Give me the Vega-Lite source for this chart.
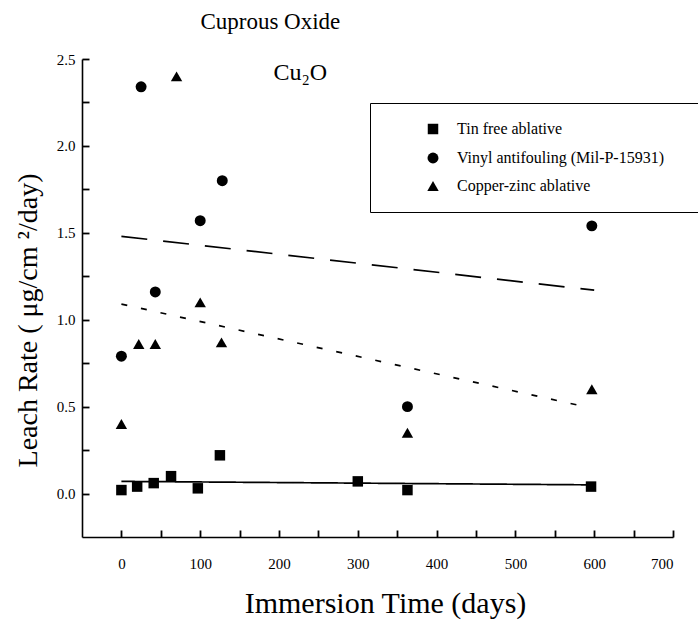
{
  "$schema": "https://vega.github.io/schema/vega-lite/v6.json",
  "width": 591,
  "height": 478,
  "autosize": {"type": "none"},
  "padding": {"left": 82, "top": 59, "right": 25, "bottom": 87},
  "background": "white",
  "config": {
    "view": {"stroke": null},
    "font": "Liberation Serif",
    "axis": {
      "grid": false,
      "domainColor": "black",
      "tickColor": "black",
      "labelColor": "black",
      "titleColor": "black",
      "labelFont": "Liberation Serif",
      "titleFont": "Liberation Serif",
      "titleFontWeight": "normal",
      "domainWidth": 1.6,
      "tickWidth": 1.8
    }
  },
  "datasets": {
    "pts": [
      {"d": 0, "v": 0.02, "s": "Tin free ablative"},
      {"d": 20, "v": 0.04, "s": "Tin free ablative"},
      {"d": 41, "v": 0.06, "s": "Tin free ablative"},
      {"d": 63, "v": 0.1, "s": "Tin free ablative"},
      {"d": 97, "v": 0.03, "s": "Tin free ablative"},
      {"d": 125, "v": 0.22, "s": "Tin free ablative"},
      {"d": 300, "v": 0.07, "s": "Tin free ablative"},
      {"d": 363, "v": 0.02, "s": "Tin free ablative"},
      {"d": 596, "v": 0.04, "s": "Tin free ablative"},
      {"d": 0, "v": 0.79, "s": "Vinyl antifouling (Mil-P-15931)"},
      {"d": 25, "v": 2.34, "s": "Vinyl antifouling (Mil-P-15931)"},
      {"d": 43, "v": 1.16, "s": "Vinyl antifouling (Mil-P-15931)"},
      {"d": 100, "v": 1.57, "s": "Vinyl antifouling (Mil-P-15931)"},
      {"d": 128, "v": 1.8, "s": "Vinyl antifouling (Mil-P-15931)"},
      {"d": 363, "v": 0.5, "s": "Vinyl antifouling (Mil-P-15931)"},
      {"d": 597, "v": 1.54, "s": "Vinyl antifouling (Mil-P-15931)"},
      {"d": 0, "v": 0.4, "s": "Copper-zinc ablative"},
      {"d": 22, "v": 0.86, "s": "Copper-zinc ablative"},
      {"d": 43, "v": 0.86, "s": "Copper-zinc ablative"},
      {"d": 70, "v": 2.4, "s": "Copper-zinc ablative"},
      {"d": 100, "v": 1.1, "s": "Copper-zinc ablative"},
      {"d": 127, "v": 0.87, "s": "Copper-zinc ablative"},
      {"d": 363, "v": 0.35, "s": "Copper-zinc ablative"},
      {"d": 597, "v": 0.6, "s": "Copper-zinc ablative"}
    ],
    "fits": [
      {"d": 0, "v": 0.07, "f": "tin"},
      {"d": 597, "v": 0.05, "f": "tin"},
      {"d": 0, "v": 1.48, "f": "vinyl"},
      {"d": 600, "v": 1.17, "f": "vinyl"},
      {"d": 0, "v": 1.09, "f": "copper"},
      {"d": 588, "v": 0.5, "f": "copper"}
    ]
  },
  "layer": [
    {
      "data": {"name": "fits"},
      "mark": {"type": "line", "color": "black", "strokeWidth": 1.7},
      "encoding": {
        "x": {
          "field": "d",
          "type": "quantitative",
          "scale": {"domain": [-50, 700], "nice": false, "zero": false},
          "axis": {
            "values": [0, 50, 100, 150, 200, 250, 300, 350, 400, 450, 500, 550, 600, 650, 700],
            "format": "d",
            "labelExpr": "datum.value % 100 == 0 ? datum.label : ''",
            "tickSize": -7,
            "labelPadding": 26,
            "labelFontSize": 15,
            "title": "Immersion Time (days)",
            "titleFontSize": 30,
            "titleX": 303,
            "titleY": 66,
            "titleBaseline": "middle"
          }
        },
        "y": {
          "field": "v",
          "type": "quantitative",
          "scale": {"domain": [-0.25, 2.5], "nice": false, "zero": false},
          "axis": {
            "values": [0, 0.25, 0.5, 0.75, 1, 1.25, 1.5, 1.75, 2, 2.25, 2.5],
            "format": ".1f",
            "labelExpr": "(datum.value * 4) % 2 == 0 ? datum.label : ''",
            "tickSize": -7,
            "labelPadding": 14,
            "labelFontSize": 15,
            "title": "Leach Rate (  μg/cm ²/day)",
            "titleFontSize": 28,
            "titleX": -54,
            "titleY": 261,
            "titleBaseline": "middle"
          }
        },
        "strokeDash": {
          "field": "f",
          "type": "nominal",
          "scale": {
            "domain": ["tin", "vinyl", "copper"],
            "range": [[1, 0], [26, 16], [6, 14]]
          },
          "legend": null
        }
      }
    },
    {
      "data": {"name": "pts"},
      "mark": {"type": "point", "filled": true, "opacity": 1, "color": "black"},
      "encoding": {
        "x": {"field": "d", "type": "quantitative"},
        "y": {"field": "v", "type": "quantitative"},
        "shape": {
          "field": "s",
          "type": "ordinal",
          "sort": ["Tin free ablative", "Vinyl antifouling (Mil-P-15931)", "Copper-zinc ablative"],
          "scale": {
            "domain": ["Tin free ablative", "Vinyl antifouling (Mil-P-15931)", "Copper-zinc ablative"],
            "range": ["square", "circle", "triangle-up"]
          },
          "legend": {
            "orient": "none",
            "legendX": 288,
            "legendY": 44,
            "title": null,
            "strokeColor": "black",
            "fillColor": "white",
            "padding": 18,
            "symbolOffset": 37,
            "symbolFillColor": "black",
            "symbolStrokeColor": "black",
            "labelFont": "Liberation Serif",
            "labelFontSize": 16,
            "labelColor": "black",
            "labelOffset": 16,
            "rowPadding": 11,
            "labelLimit": 600,
            "labelExpr": "datum.label + '\u2800\u2800'"
          }
        },
        "size": {
          "field": "s",
          "type": "ordinal",
          "sort": ["Tin free ablative", "Vinyl antifouling (Mil-P-15931)", "Copper-zinc ablative"],
          "scale": {
            "domain": ["Tin free ablative", "Vinyl antifouling (Mil-P-15931)", "Copper-zinc ablative"],
            "range": [110, 130, 240]
          },
          "legend": {
            "orient": "none",
            "legendX": 288,
            "legendY": 44,
            "title": null,
            "strokeColor": "black",
            "fillColor": "white",
            "padding": 18,
            "symbolOffset": 37,
            "symbolFillColor": "black",
            "symbolStrokeColor": "black",
            "labelFont": "Liberation Serif",
            "labelFontSize": 16,
            "labelColor": "black",
            "labelOffset": 16,
            "rowPadding": 11,
            "labelLimit": 600,
            "labelExpr": "datum.label + '\u2800\u2800'"
          }
        }
      }
    },
    {
      "data": {"values": [{}]},
      "mark": {"type": "text", "text": "Cu₂O", "font": "Liberation Serif", "fontSize": 24, "color": "black"},
      "encoding": {
        "x": {"datum": 227},
        "y": {"datum": 2.42}
      }
    },
    {
      "data": {"values": [{}]},
      "mark": {"type": "text", "text": "Cuprous Oxide", "font": "Liberation Serif", "fontSize": 23, "color": "black"},
      "encoding": {
        "x": {"datum": 189},
        "y": {"datum": 2.71}
      }
    }
  ]
}
